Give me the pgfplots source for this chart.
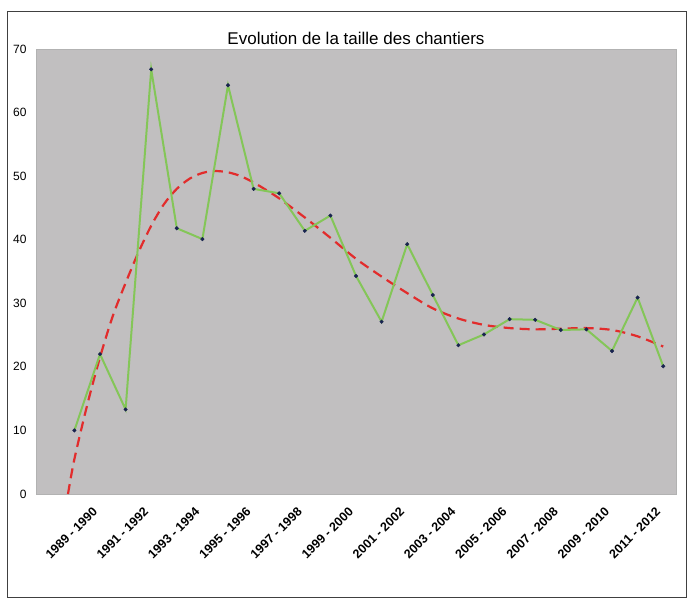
\documentclass[border=0pt]{standalone}
\usepackage{pgfplots}
\pgfplotsset{compat=1.18}
\usepackage{fontspec}
\setmainfont{Liberation Sans}
\definecolor{plotgray}{RGB}{193,191,192}
\definecolor{linegreen}{RGB}{132,198,88}
\definecolor{trendred}{RGB}{226,44,44}
\definecolor{markblue}{RGB}{25,35,80}
\begin{document}
\begin{tikzpicture}
\useasboundingbox (0pt,0pt) rectangle (688pt,-601pt);
\fill[white] (0pt,0pt) rectangle (688pt,-601pt);
\draw[black!75, line width=0.8pt] (7pt,-11pt) rectangle (686pt,-597pt);
\begin{axis}[
  at={(36pt,-494pt)}, anchor=south west,
  scale only axis, width=640pt, height=445pt,
  xmin=-0.5, xmax=24.5, ymin=0, ymax=70,
  ytick={0,10,...,70},
  xtick={1,3,...,23},
  xticklabels={1989 - 1990,1991 - 1992,1993 - 1994,1995 - 1996,1997 - 1998,1999 - 2000,2001 - 2002,2003 - 2004,2005 - 2006,2007 - 2008,2009 - 2010,2011 - 2012},
  /pgf/number format/assume math mode=true,
  axis background/.style={fill=plotgray},
  axis line style={draw=black!30, line width=0.6pt},
  major tick length=0pt,
  yticklabel style={font=\fontsize{12}{14}\selectfont, xshift=-6pt},
  xticklabel style={font=\bfseries\fontsize{12.5}{14}\selectfont, anchor=east, xshift=23pt, yshift=-13pt, rotate=45},
  title={Evolution de la taille des chantiers},
  title style={font=\fontsize{17}{20}\selectfont, yshift=-5pt},
]
\addplot[trendred, line width=2.2pt, dash pattern=on 10pt off 6pt, smooth, tension=0.5] coordinates {
(0.75,0) (1,5.5) (1.5,14) (2,21.5) (2.5,28) (3,33.2) (3.5,38) (4,42.2) (4.5,45.6) (5,48) (5.5,49.6) (6,50.5) (6.5,50.8) (7,50.6) (7.5,50) (8,49) (8.5,47.8) (9,46.5) (10,43.5) (11,40.3) (12,37.0) (13,34.2) (14,31.6) (15,29.2) (16,27.6) (17,26.6) (18,26.1) (19,25.9) (20,26.0) (21,26.1) (22,25.8) (23,24.8) (24,23.2)
};
\addplot[linegreen, line width=2pt, mark=*, mark size=1.8pt, mark options={fill=markblue, draw=markblue, line width=0.4pt}] coordinates {
(1,10.0) (2,22.0) (3,13.3) (4,66.8) (5,41.8) (6,40.1) (7,64.3) (8,48.0) (9,47.3) (10,41.4) (11,43.8) (12,34.3) (13,27.1) (14,39.3) (15,31.3) (16,23.4) (17,25.1) (18,27.5) (19,27.4) (20,25.8) (21,25.9) (22,22.5) (23,30.9) (24,20.1)
};
\end{axis}
\end{tikzpicture}
\end{document}
